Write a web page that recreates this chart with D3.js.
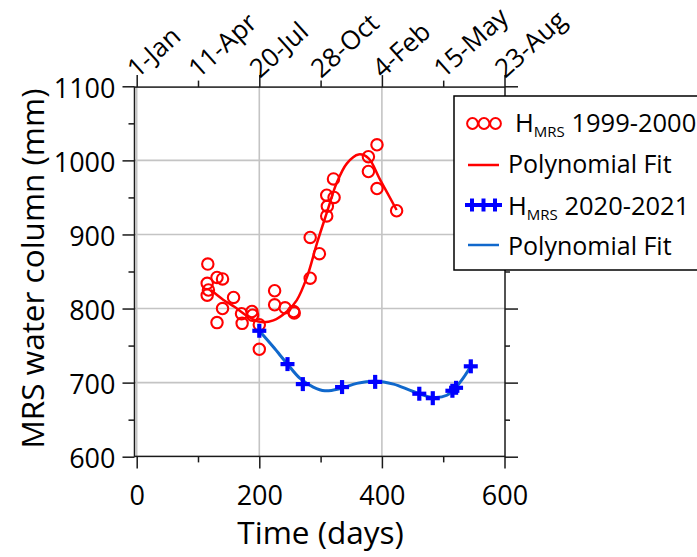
<!DOCTYPE html>
<html>
<head>
<meta charset="utf-8">
<script src="https://cdn.jsdelivr.net/npm/d3@7"></script>
<style>
    html, body { margin: 0; padding: 0; background: #fff; }
    svg { display: block; font-family: "Open Sans", sans-serif; }
</style>
</head>
<body>
<svg width="697" height="557"></svg>
<script>
// H_MRS 1999-2000 (days, mm)
var days1999 = [116, 131, 140, 115, 117, 115, 158, 140, 131, 171, 172, 188, 189, 200, 200, 225, 225, 242, 256, 257,
    283, 298, 283, 310, 311, 310, 322, 321, 378, 392, 378, 392, 424];
var mrs1999 = [860, 842, 840, 834, 825, 818, 815, 800, 781, 793, 780, 796, 791, 778, 745, 824, 805, 801, 796, 794,
    841, 874, 896, 925, 938, 953, 950, 975, 1005, 1021, 985, 962, 932];
// polynomial fit
var fitDays1999 = [121, 141, 160, 180, 201, 223, 245, 261, 278, 294, 310, 326, 343, 362, 378, 397, 424];
var fitMrs1999 = [825, 812, 802, 790, 782, 784, 796, 811, 843, 888, 929, 969, 996, 1008, 1003, 974, 933];

// H_MRS 2020-2021
var days2020 = [200, 246, 271, 335, 389, 461, 483, 515, 521, 545];
var mrs2020 = [770, 725, 698, 694, 701, 685, 679, 689, 693, 722];
var fitDays2020 = [200, 223, 245, 266, 288, 307, 332, 359, 389, 419, 451, 484, 506, 528, 545];
var fitMrs2020 = [770, 748, 726, 706, 694, 689, 692, 699, 702, 698, 688, 680, 683, 701, 722];

// axes
var dayTicks = [0, 200, 400, 600];
var dayMinor = [100, 300, 500];
var dateTicks = [0, 100, 200, 300, 400, 500, 600];
var dateLabels = ["1-Jan", "11-Apr", "20-Jul", "28-Oct", "4-Feb", "15-May", "23-Aug"];
var mrsTicks = [600, 700, 800, 900, 1000, 1100];
var mrsMinor = [650, 750, 850, 950, 1050];

(function () {
    var red = "#ff0000", blue = "#0000ff", fitBlue = "#1068cc", grid = "#c4c4c4", ink = "#1a1a1a";

    var svg = d3.select("svg");
    var x = d3.scaleLinear().domain([0, 600]).range([136.7, 504.5]);
    var y = d3.scaleLinear().domain([600, 1100]).range([456.7, 86.3]);
    var pLeft = x(-3.6), pRight = x(600) + 0.5, pTop = y(1100) + 0.8, pBottom = y(600) - 0.3;

    // grid
    var g = svg.append("g");
    g.selectAll(".vg").data([0, 200, 400]).enter().append("line")
        .attr("x1", d => x(d)).attr("x2", d => x(d))
        .attr("y1", pTop).attr("y2", pBottom)
        .attr("stroke", grid).attr("stroke-width", 1.6);
    g.selectAll(".hg").data([700, 800, 900, 1000]).enter().append("line")
        .attr("x1", pLeft).attr("x2", pRight)
        .attr("y1", d => y(d)).attr("y2", d => y(d))
        .attr("stroke", grid).attr("stroke-width", 1.6);

    function styleAxis(sel) {
        sel.select(".domain").remove();
        sel.selectAll("line").attr("stroke", ink).attr("stroke-width", 1.5);
        sel.selectAll("text").attr("fill", "#000").style("font-size", "27px").style("font-family", "Open Sans");
    }

    // left
    svg.append("g").attr("transform", `translate(${pLeft},0)`)
        .call(d3.axisLeft(y).tickValues(mrsTicks).tickSize(12).tickPadding(7).tickFormat(d3.format("d")))
        .call(styleAxis)
        .selectAll("text").attr("dy", "0.4em");
    svg.append("g").attr("transform", `translate(${pLeft},0)`)
        .call(d3.axisLeft(y).tickValues(mrsMinor).tickSize(6).tickFormat(""))
        .call(styleAxis);
    // right
    svg.append("g").attr("transform", `translate(${pRight},0)`)
        .call(d3.axisRight(y).tickValues(mrsTicks).tickSize(13).tickFormat(""))
        .call(styleAxis);
    svg.append("g").attr("transform", `translate(${pRight},0)`)
        .call(d3.axisRight(y).tickValues(mrsMinor).tickSize(5).tickFormat(""))
        .call(styleAxis);
    // bottom
    svg.append("g").attr("transform", `translate(0,${pBottom})`)
        .call(d3.axisBottom(x).tickValues(dayTicks).tickSize(12).tickPadding(17).tickFormat(d3.format("d")))
        .call(styleAxis);
    svg.append("g").attr("transform", `translate(0,${pBottom})`)
        .call(d3.axisBottom(x).tickValues(dayMinor).tickSize(6).tickFormat(""))
        .call(styleAxis);
    // top (calendar dates)
    svg.append("g").attr("transform", `translate(0,${pTop})`)
        .call(d3.axisTop(x).tickValues(dateTicks.filter((d, i) => i % 2 == 0)).tickSize(12).tickFormat(""))
        .call(styleAxis);
    svg.append("g").attr("transform", `translate(0,${pTop})`)
        .call(d3.axisTop(x).tickValues(dateTicks.filter((d, i) => i % 2 == 1)).tickSize(6.5).tickFormat(""))
        .call(styleAxis);
    svg.append("g").selectAll("text").data(dateTicks).enter().append("text")
        .attr("transform", d => `translate(${x(d) + 0.5},${pTop - 8}) rotate(-42)`)
        .style("font-size", "26px")
        .text((d, i) => dateLabels[i]);

    // frame
    svg.append("rect")
        .attr("x", pLeft).attr("y", pTop)
        .attr("width", pRight - pLeft).attr("height", pBottom - pTop)
        .attr("fill", "none").attr("stroke", ink).attr("stroke-width", 1.5);

    // axis titles
    svg.append("text")
        .attr("x", (x(0) + x(600)) / 2).attr("y", 544)
        .attr("text-anchor", "middle").style("font-size", "31.5px")
        .text("Time (days)");
    svg.append("text")
        .attr("transform", `translate(44,${(y(600) + y(1100)) / 2 - 3}) rotate(-90)`)
        .attr("text-anchor", "middle").style("font-size", "31.5px")
        .text("MRS water column (mm)");

    // fits and points
    var line = d3.line().x(d => x(d[0])).y(d => y(d[1])).curve(d3.curveCatmullRom);

    svg.append("g").selectAll("circle").data(d3.zip(days1999, mrs1999)).enter().append("circle")
        .attr("cx", d => x(d[0])).attr("cy", d => y(d[1])).attr("r", 5.7)
        .attr("fill", "none").attr("stroke", red).attr("stroke-width", 2.1);

    svg.append("path").datum(d3.zip(fitDays1999, fitMrs1999))
        .attr("d", line).attr("fill", "none").attr("stroke", red).attr("stroke-width", 2.5);

    svg.append("path").datum(d3.zip(fitDays2020, fitMrs2020))
        .attr("d", line).attr("fill", "none").attr("stroke", fitBlue).attr("stroke-width", 3);

    function cross(sel, size) {
        sel.append("line").attr("x1", -size).attr("x2", size).attr("y1", 0).attr("y2", 0);
        sel.append("line").attr("x1", 0).attr("x2", 0).attr("y1", -size).attr("y2", size);
    }
    svg.append("g").selectAll("g").data(d3.zip(days2020, mrs2020)).enter().append("g")
        .attr("transform", d => `translate(${x(d[0])},${y(d[1])})`)
        .attr("stroke", blue).attr("stroke-width", 4.2)
        .call(cross, 7);

    // legend
    var lg = svg.append("g");
    lg.append("rect")
        .attr("x", 454).attr("y", 96).attr("width", 300).attr("height", 174)
        .attr("fill", "#fff").attr("stroke", "#000").attr("stroke-width", 1.5);

    lg.selectAll("circle").data([472.5, 484, 495.5]).enter().append("circle")
        .attr("cx", d => d).attr("cy", 123.5).attr("r", 5.4)
        .attr("fill", "none").attr("stroke", red).attr("stroke-width", 2);
    lg.append("line").attr("x1", 468).attr("x2", 499).attr("y1", 165).attr("y2", 165)
        .attr("stroke", red).attr("stroke-width", 2.5);
    lg.append("line").attr("x1", 465).attr("x2", 502).attr("y1", 205).attr("y2", 205)
        .attr("stroke", blue).attr("stroke-width", 4);
    lg.selectAll(".lc").data([472, 483.5, 495]).enter().append("line")
        .attr("x1", d => d).attr("x2", d => d).attr("y1", 198.5).attr("y2", 211.5)
        .attr("stroke", blue).attr("stroke-width", 4);
    lg.append("line").attr("x1", 468).attr("x2", 499).attr("y1", 245).attr("y2", 245)
        .attr("stroke", fitBlue).attr("stroke-width", 2.5);

    function hLabel(xp, yp, rest) {
        var t = lg.append("text").attr("x", xp).attr("y", yp).style("font-size", "25.5px");
        t.append("tspan").text("H");
        t.append("tspan").attr("dy", 5).style("font-size", "15px").text("MRS");
        t.append("tspan").attr("dy", -5).text(" " + rest);
    }
    hLabel(515, 132, "1999-2000");
    hLabel(508, 215, "2020-2021");
    lg.append("text").attr("x", 508).attr("y", 173).style("font-size", "25px").text("Polynomial Fit");
    lg.append("text").attr("x", 508).attr("y", 255).style("font-size", "25px").text("Polynomial Fit");
}());
</script>
</body>
</html>
